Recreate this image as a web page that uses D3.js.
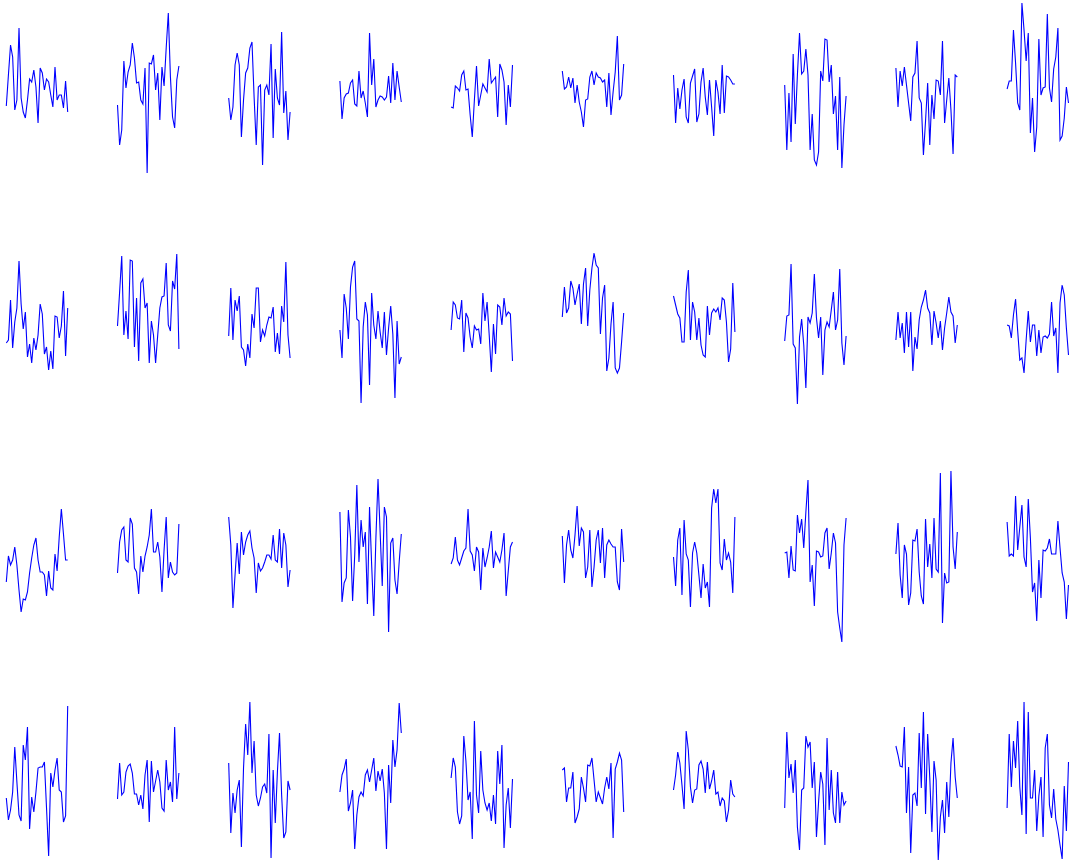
<!DOCTYPE html>
<html>
<head>
<meta charset="utf-8">
<script src="https://cdnjs.cloudflare.com/ajax/libs/d3/7.8.5/d3.min.js"></script>
<style>
  body { margin: 0; background: #fff; }
</style>
</head>
<body>
<div id="chart"></div>
<script>
// one array of 10 series per row, 30 samples each
const row1 = [
  [-1.1, 2.0, 5.0, 3.8, -1.5, -0.5, 6.7, -0.3, -1.7, -2.3, -0.5, 1.6, 1.3, 2.5, 0.8, -2.8, 2.7, 2.2, 0.5, 1.6, 1.3, 0, -1.2, 2.8, -0.5, 0, 0, -1.3, 1.4, -1.7],
  [-1.0, -5.0, -3.5, 3.4, 0.7, 2.3, 3.0, 5.2, 3.7, 1.2, 1.3, -0.5, -0.9, 2.7, -7.8, 3.2, 3.1, 4.0, 0.5, 2.2, -2.5, 2.8, 0.9, 4.7, 8.2, 1.8, -2.2, -3.3, 1.5, 2.9],
  [-0.3, -2.5, -1.2, 3.0, 4.2, 3.0, -4.2, -0.5, 2.2, 2.7, 4.7, 5.3, -0.2, -5.0, 0.8, 1.0, -7.0, 0.5, 1.0, 0, 5.1, -4.3, 2.6, -0.3, -1.0, 6.3, -1.8, 0.4, -4.5, -1.7],
  [1.4, -2.4, -0.3, 0.1, 0.2, 1.2, 1.5, -0.9, -1.1, 2.4, -0.3, 0.4, -0.8, -2.2, 6.2, 1.0, 3.6, -1.2, -0.5, -0.1, -0.2, -0.5, -0.2, 1.9, -0.8, 3.2, -0.5, 2.4, 0.8, -0.7],
  [-1.2, -1.3, 0.9, 0.7, 0.4, 2.0, 2.4, 0.5, 0.6, -2.0, -4.2, -0.5, 2.9, -1.1, 0, 1.1, 0.7, 0.3, 3.6, 1.2, 1.5, 1.8, -2.2, 3.1, 2.5, 1.3, -3.0, 1.0, -1.2, 3.0],
  [2.4, 0.6, 0.8, 1.8, 0.7, 1.7, -0.8, 1.0, -0.7, -1.7, -3.2, -0.5, -0.4, 1.8, 2.4, 1.0, 2.2, 1.8, 1.7, 1.3, 1.5, -1.2, 2.2, -2.0, 0.3, 2.3, 5.9, -0.5, 0, 3.1],
  [2.0, -2.8, 0.7, -1.4, 0.5, 1.6, -2.2, -2.8, 1.2, 1.9, 2.6, -2.7, -1.9, 1.3, 2.7, -0.2, -2.0, 1.5, -1.2, -4.1, 1.5, 0.3, -1.9, 3.0, -1.8, 1.9, 1.8, 1.5, 1.1, 1.1],
  [1.0, -5.5, 0.2, -4.7, 4.1, -2.9, 2.0, 6.2, 2.1, 2.4, 4.6, 2.0, -5.5, -1.9, -6.5, -7.0, -5.7, 2.4, 1.4, 5.6, 5.5, 1.3, 3.0, -1.9, -0.1, -5.5, 1.8, -7.3, -3.0, -0.1],
  [2.7, -1.2, 2.4, 0.9, 2.8, 1.0, -0.8, -2.6, 1.8, 2.2, 5.4, -0.3, -0.8, -6.0, -2.6, 1.2, -5.0, 0, -2.4, 1.5, 1.4, 0, 5.4, -2.8, -0.5, 1.7, -1.5, -5.9, 2.0, 1.8],
  [0.6, 1.4, 1.4, 6.5, 3.2, -0.8, -1.5, 9.2, 6.5, 3.4, 6.2, -3.8, -0.3, -5.7, -3.2, 5.6, 0, 0.7, 0.8, 8.1, 0.7, -0.7, 2.6, 3.8, 6.7, -4.5, -4.1, -2.3, 0.8, -0.8]
];
const row2 = [
  [-1.8, -1.5, 2.5, -2.3, 0.3, 1.7, 6.4, 2.1, -0.4, 1.3, -3.2, -1.9, -3.8, -1.3, -2.5, -1.0, 2.1, 1.1, -2.9, -2.2, -4.5, -2.6, -4.4, 0.9, 0.8, -1.3, -0.1, 3.4, -3.1, 1.7],
  [-0.1, 3.3, 6.9, -1.0, 1.4, -1.4, 6.5, 6.4, -2.2, 2.7, -3.6, 4.2, 4.6, 1.7, 2.2, -3.8, 0.4, -1.0, -3.8, -1.0, 1.7, 2.8, 2.9, 6.2, 0, -0.6, 4.4, 3.6, 7.1, -2.4],
  [-1.1, 3.7, -1.5, 2.5, 1.4, 2.9, -2.2, -2.5, -4.1, -1.9, -3.3, 1.1, -0.3, 3.7, 3.7, -1.7, -0.5, -1.1, 0, 0.8, 0.7, 1.8, -2.7, -0.8, -2.9, 1.9, 0.3, 6.3, -1.0, -3.3],
  [-0.5, -3.3, 3.1, 1.7, -1.4, 3.8, 5.8, 6.4, 0.6, 0.4, -7.8, -0.2, 2.3, 1.0, -6.0, 3.2, 0, -1.4, 1.4, -0.7, -2.3, 1.3, -3.0, -0.3, 1.9, -0.9, -7.3, 0.4, -3.9, -3.2],
  [-0.5, 2.3, 2.0, 0.7, 0.6, 2.5, -2.7, 1.2, 0.7, -1.2, -2.3, -0.1, -0.5, -0.4, -1.9, 3.2, 0.4, 2.3, -1.0, -4.7, 0.1, -2.9, 2.0, 1.8, 0, 2.7, 0.9, 1.3, 1.1, -3.6],
  [0.8, 3.8, 1.2, 1.7, 4.4, 3.7, 2.0, 3.1, 4.1, 0.1, 4.1, 5.7, -0.1, 3.5, 5.7, 7.2, 6.0, 5.7, -0.9, 2.7, 4.0, -4.6, -3.3, 0.1, 2.3, -4.3, -4.8, -4.3, -1.7, 1.2],
  [2.9, 2.0, 1.1, 0.7, -1.7, -1.7, 3.3, 5.5, -1.5, 2.3, 1.3, -1.5, 0.7, -2.0, -3.0, -3.2, 1.9, -1.0, 1.2, 1.6, 1.3, 1.7, 0.5, 2.7, 2.5, 0.3, -3.7, -2.4, 4.2, -0.7],
  [-1.6, 0.9, 1.0, 6.1, -1.9, -2.3, -7.9, -1.2, 0.6, -2.0, -6.3, 0.8, 0.2, 1.2, 5.1, 0.7, -1.3, 0.8, -5.0, -0.5, 0.3, -0.2, 1.5, 3.3, -0.5, 0.5, 5.6, -1.8, -4.0, -1.1],
  [-1.5, 1.3, -1.3, 0.2, -2.8, 1.3, -2.2, 1.3, -4.6, -1.2, -2.4, 0.5, 1.8, 2.5, 3.5, 1.7, 1.2, -2.0, 1.4, 0.2, -1.3, 0.4, -2.5, -0.3, 1.2, 2.8, 1.3, 0.9, -1.8, 0],
  [0, -0.1, -1.3, 1.0, 2.6, -0.6, -3.5, -3.3, -4.8, -1.5, 1.4, -1.7, 0, 0, -3.1, -0.5, -2.8, -1.2, -1.1, -1.3, -0.9, 2.3, -1.1, -0.3, -4.8, 2.2, 4.0, 3.0, -0.3, -3.0]
];
const row3 = [
  [-2.7, -0.1, -1.0, -0.5, 0.8, -1.0, -3.5, -5.7, -4.4, -4.5, -3.7, -1.8, -0.3, 1.0, 1.7, -0.5, -1.7, -1.7, -2.0, -4.1, -1.6, -3.3, -3.5, 0.1, -1.6, 1.8, 4.6, 2.1, -0.5, -0.5],
  [-1.8, 1.3, 2.5, 2.8, -0.5, -0.7, 3.7, 3.1, -1.3, -1.7, -3.9, -0.1, -1.7, -0.1, 0.8, 2.0, 4.6, 0.3, 0.3, 1.3, -0.2, -3.7, 0.5, 3.8, -2.3, -0.7, -1.7, -2.0, -1.8, 3.1],
  [3.8, 1.0, -5.3, -2.0, 1.2, -1.9, 2.3, 0, 1.3, 2.0, 2.4, 0.7, -0.3, -3.8, -0.8, -1.6, -1.3, -0.7, 0, 0, -0.4, 2.0, -0.5, -0.7, 2.6, -1.3, 2.2, 1.0, -3.2, -1.5],
  [4.3, -4.7, -2.8, -2.3, 4.5, 1.8, -4.6, 0, 7.0, -0.7, 3.5, 0.8, 2.3, -4.9, 4.8, -1.0, -6.1, 1.7, 7.6, 2.3, -3.1, 4.8, 3.8, -7.7, 1.2, 1.7, -2.5, -3.9, -0.7, 2.1],
  [-0.9, -0.3, 1.8, -0.5, -1.0, -0.3, 0.4, 0.7, 4.6, 0.4, 0, -1.6, 0.8, 0.3, -3.5, 0.7, -1.2, -0.3, 0.8, 2.4, -1.3, 0.3, -0.2, -0.7, 0.5, 2.2, -4.1, -1.6, 0.8, 1.3],
  [1.9, -2.8, 1.0, 2.5, 0.5, -0.3, 2.0, 4.9, 0.9, 2.7, 2.3, -2.3, -1.2, 2.5, -3.2, -1.2, 1.5, 2.5, -0.8, 2.7, -2.3, 1.0, 1.5, 1.1, 0.8, 0.8, -2.7, -3.5, 2.6, -0.7],
  [-0.2, -3.1, 1.5, 2.7, -4.0, 3.5, 0.1, -0.5, -5.2, 0.2, 1.3, 0.2, -2.0, -4.3, -0.9, -3.3, -2.7, -5.2, 4.7, 6.6, 5.2, 6.6, -0.8, -1.5, 1.6, -0.5, 0.2, -0.7, -3.8, 3.8],
  [0.2, 0.3, -2.3, 0.9, -1.5, -1.6, 4.0, 2.2, 3.6, 0.7, 4.3, 7.5, -2.7, -1.0, -5.1, 0.4, 0.3, -0.2, -0.1, 2.2, 2.7, -1.4, 0.2, 2.2, 1.2, -5.7, -7.3, -8.7, 1.0, 3.7],
  [0.1, 3.2, -2.0, -4.3, 1.0, 0.1, -5.0, -3.8, 1.5, 1.4, 2.6, -1.7, -4.1, -4.9, 3.6, -1.2, 1.1, -2.3, 3.7, -1.4, -1.7, 8.2, -6.8, -1.8, -2.8, -2.7, 8.4, 0.8, -1.4, 2.3],
  [3.3, -0.1, 0.1, -0.1, 5.9, 0.5, 2.8, 5.0, -0.2, -1.2, 5.6, 1.7, -3.7, -2.8, -6.6, -0.5, -4.3, 0.5, 0.4, 0.7, 1.6, 0.1, 0.1, 0.1, 3.4, 0.7, -1.8, -2.7, -6.4, -3.0]
];
const row4 = [
  [-1.3, -3.5, -2.5, -0.7, 3.8, 0.3, -3.0, -3.6, 4.0, 2.5, 5.8, -4.4, -1.2, -2.7, -0.7, 1.7, 1.8, 1.8, 2.3, -2.3, -7.1, 1.2, -0.2, 1.5, 2.7, -0.5, -0.7, -3.7, -3.1, 7.9],
  [-1.4, 2.2, -1.0, -0.7, 1.3, 1.9, 2.1, 1.2, -0.9, -0.9, -2.0, -1.0, -2.4, 1.0, 2.5, -3.7, 2.4, -0.7, 0.4, 1.5, 0.3, -2.3, -2.6, 2.5, -0.5, 0.3, -1.7, 5.8, -1.4, 1.2],
  [2.2, -4.8, -0.8, -2.8, -0.5, 0.5, -6.2, 1.7, 6.1, 3.0, 8.3, 1.2, 4.4, -1.0, -2.1, -1.3, -0.2, 0.1, -0.8, 5.1, -7.3, 1.5, -3.8, 1.3, 5.2, -1.0, -5.3, -4.7, 0.4, -0.5],
  [-0.7, 1.0, 1.6, 2.6, -2.6, -1.8, -0.5, -6.4, -3.0, -1.2, -0.7, -1.1, 1.0, 1.5, 0.3, 1.5, 2.7, -0.6, 1.4, 0.4, 1.6, -0.8, -6.4, 2.0, -1.8, 4.5, 1.8, 3.5, 8.2, 5.2],
  [0.7, 2.7, 1.8, -2.7, -3.9, -3.1, 4.9, 2.4, -1.5, -0.7, -5.4, 6.4, -1.0, -2.8, 3.4, -0.5, -1.8, -2.5, -1.8, -3.6, -1.0, -3.9, 3.4, 0.1, 4.0, -6.3, -2.0, -0.3, -4.3, 0.6],
  [1.5, 1.7, -1.7, -0.3, -0.3, 1.3, -3.8, -3.2, -2.4, 0.8, -0.3, -1.7, 2.0, 1.9, 2.7, 0.5, -1.7, -0.7, -1.3, -1.9, -0.3, 0.8, -0.4, 2.2, -5.3, 1.6, 2.3, 3.2, 2.5, -2.7],
  [-0.5, 1.0, 3.3, 2.2, 0, -2.4, 5.4, 3.5, -0.2, -1.8, -0.5, -0.4, 2.0, 2.4, 1.6, -0.8, 2.3, -0.4, 0.4, 1.5, -0.9, -0.7, -2.1, -1.3, -1.6, -3.7, -2.5, 0.5, -0.9, -1.2],
  [-2.3, 5.3, 0.7, 2.1, -0.8, 2.5, -4.2, -6.5, -0.5, -0.3, 4.9, 3.8, 4.3, -0.3, 2.3, -5.2, -1.7, 1.3, 0.1, -6.0, 4.7, -2.5, 1.5, -2.8, -3.8, 1.3, -3.8, -0.7, -2.0, -1.6],
  [3.9, 3.0, 1.9, 1.8, 5.8, -2.8, 1.8, -6.8, -1.0, -0.8, -2.1, 5.2, -0.3, 7.3, -2.9, 5.1, 0.7, -4.7, 2.4, 0.5, -7.5, -3.2, -1.5, -4.8, 0.3, -3.2, 2.2, 4.7, 0.8, -1.3],
  [-2.3, 5.1, -0.2, 4.4, 1.7, 6.4, -0.2, -3.0, 8.3, -4.9, 7.3, -1.3, -1.3, 1.5, -4.6, -1.1, 0.8, -5.2, 3.7, 5.1, -2.0, -3.3, -0.4, -3.4, -4.5, -6.0, -7.4, -0.1, -4.6, 2.3]
];

const rows = [row1, row2, row3, row4];

const width = 1072
const height = 864
const cellW = 111.2
const cellH = 230
const lineW = 61.4
const offsetX = 6.3
const zeroY = 95  // zero line of the first row

let svg = d3.select("#chart").append("svg")
    .attr("width", width)
    .attr("height", height);

let x = d3.scaleLinear()
    .domain([0, 29])
    .range([0, lineW]);

// same vertical scale for every panel
let y = d3.scaleLinear()
    .domain([-10, 10])
    .range([100, -100]);

let line = d3.line()
    .x(function (d, i) { return x(i); })
    .y(function (d) { return y(d); });

rows.forEach(function (row, r) {
    row.forEach(function (series, c) {
        svg.append("g")
            .attr("transform", "translate(" + (offsetX + c * cellW) + "," + (zeroY + r * cellH) + ")")
            .append("path")
            .datum(series)
            .attr("d", line)
            .style("fill", "none")
            .style("stroke", "#0000ff")
            .style("stroke-width", 1.1);
    });
});
</script>
</body>
</html>
